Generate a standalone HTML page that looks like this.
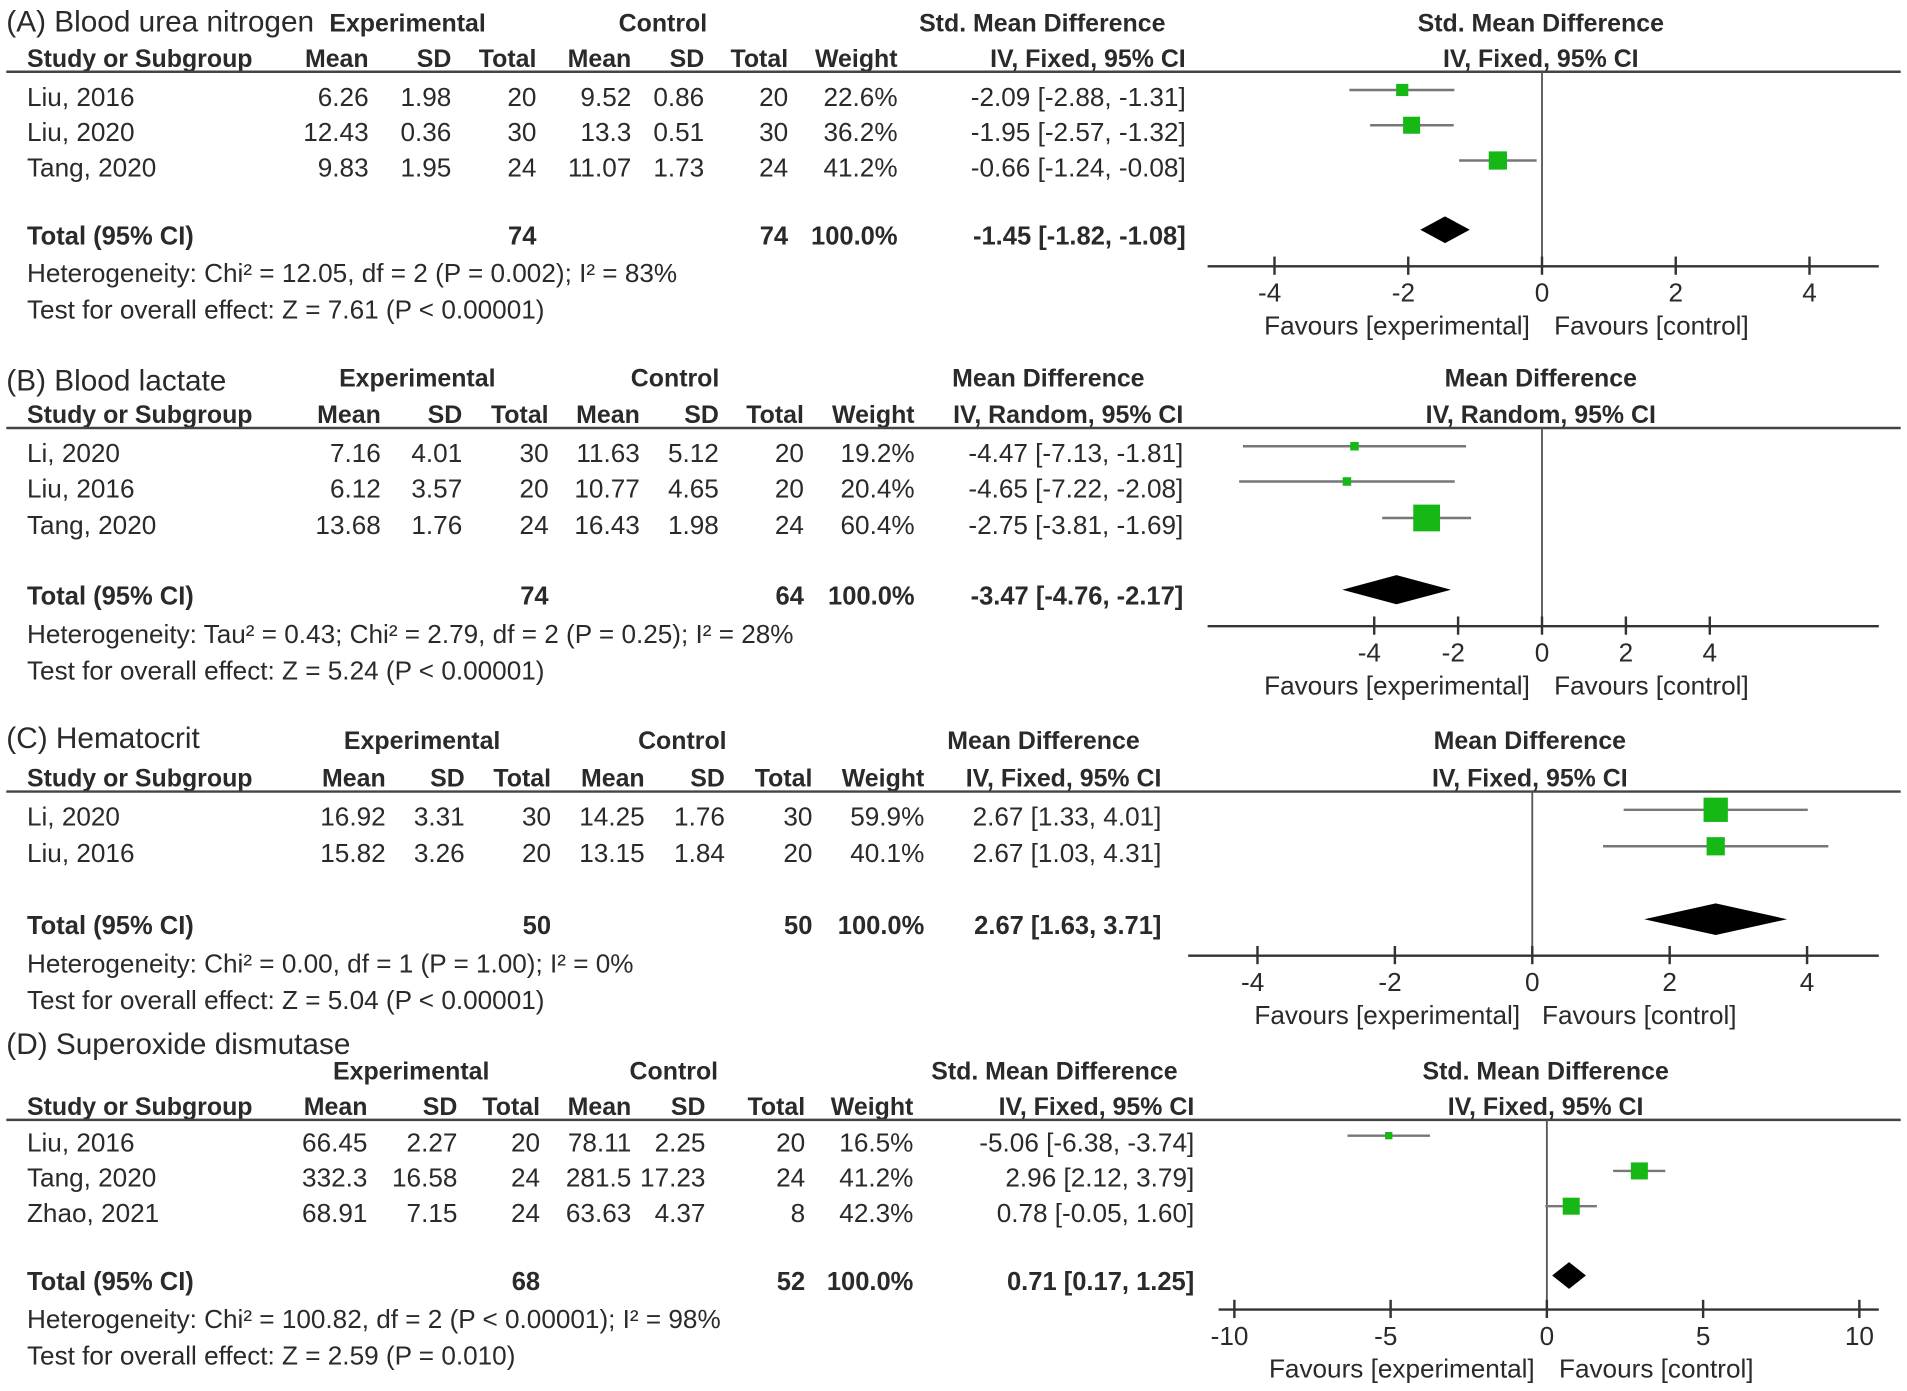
<!DOCTYPE html>
<html><head><meta charset="utf-8"><style>
html,body{margin:0;padding:0;background:#fff;}
svg{display:block;}
text{font-family:"Liberation Sans Narrow","Liberation Sans",sans-serif;fill:#2a2a2a;}
.h{font-weight:bold;font-size:20.5px;}
.d{font-size:21.5px;}
.t{font-size:24.5px;}
.b{font-weight:bold;font-size:21px;}
</style></head><body>
<svg id="chart" width="1907" height="1391" viewBox="0 0 1568 1144" xmlns="http://www.w3.org/2000/svg"></svg>
<script>
// ---- Panel A: Blood urea nitrogen ----
const aStudies=["Liu, 2016","Liu, 2020","Tang, 2020"];
const aExpMean=["6.26","12.43","9.83"], aExpSD=["1.98","0.36","1.95"], aExpN=["20","30","24"];
const aCtlMean=["9.52","13.3","11.07"], aCtlSD=["0.86","0.51","1.73"], aCtlN=["20","30","24"];
const aWeight=[22.6,36.2,41.2];
const aEst=[-2.09,-1.95,-0.66], aLo=[-2.88,-2.57,-1.24], aHi=[-1.31,-1.32,-0.08];
const aTotal=[-1.45,-1.82,-1.08], aTotN=["74","74"];
const aTicks=[-4,-2,0,2,4];
// ---- Panel B: Blood lactate ----
const bStudies=["Li, 2020","Liu, 2016","Tang, 2020"];
const bExpMean=["7.16","6.12","13.68"], bExpSD=["4.01","3.57","1.76"], bExpN=["30","20","24"];
const bCtlMean=["11.63","10.77","16.43"], bCtlSD=["5.12","4.65","1.98"], bCtlN=["20","20","24"];
const bWeight=[19.2,20.4,60.4];
const bEst=[-4.47,-4.65,-2.75], bLo=[-7.13,-7.22,-3.81], bHi=[-1.81,-2.08,-1.69];
const bTotal=[-3.47,-4.76,-2.17], bTotN=["74","64"];
const bTicks=[-4,-2,0,2,4];
// ---- Panel C: Hematocrit ----
const cStudies=["Li, 2020","Liu, 2016"];
const cExpMean=["16.92","15.82"], cExpSD=["3.31","3.26"], cExpN=["30","20"];
const cCtlMean=["14.25","13.15"], cCtlSD=["1.76","1.84"], cCtlN=["30","20"];
const cWeight=[59.9,40.1];
const cEst=[2.67,2.67], cLo=[1.33,1.03], cHi=[4.01,4.31];
const cTotal=[2.67,1.63,3.71], cTotN=["50","50"];
const cTicks=[-4,-2,0,2,4];
// ---- Panel D: Superoxide dismutase ----
const dStudies=["Liu, 2016","Tang, 2020","Zhao, 2021"];
const dExpMean=["66.45","332.3","68.91"], dExpSD=["2.27","16.58","7.15"], dExpN=["20","24","24"];
const dCtlMean=["78.11","281.5","63.63"], dCtlSD=["2.25","17.23","4.37"], dCtlN=["20","24","8"];
const dWeight=[16.5,41.2,42.3];
const dEst=[-5.06,2.96,0.78], dLo=[-6.38,2.12,-0.05], dHi=[-3.74,3.79,1.60];
const dTotal=[0.71,0.17,1.25], dTotN=["68","52"];
const dTicks=[-10,-5,0,5,10];

const svg=document.getElementById('chart');
const NS="http://www.w3.org/2000/svg";
function mk(tag,attrs,parent){const e=document.createElementNS(NS,tag);for(const k in attrs)e.setAttribute(k,attrs[k]);(parent||svg).appendChild(e);return e;}
function txt(s,x,y,cls,anchor,name,parent){const e=mk('text',{x:x,y:y,class:cls,'text-anchor':anchor||'start'},parent);e.textContent=s;


return e;}
function f2(v){return (v<0?'-':'')+Math.abs(v).toFixed(2);}
function ci(e,l,h){return f2(e)+' ['+f2(l)+', '+f2(h)+']';}

const panels=[
 {id:'a',title:'(A) Blood urea nitrogen',method:'Std. Mean Difference',sub:'IV, Fixed, 95% CI',
  studies:aStudies,em:aExpMean,es:aExpSD,en:aExpN,cm:aCtlMean,cs:aCtlSD,cn:aCtlN,w:aWeight,est:aEst,lo:aLo,hi:aHi,tot:aTotal,totN:aTotN,ticks:aTicks,
  hdr:{exp:335,ctl:545,meth:857,right:1267,titleY:26,h1:26},cols:[303,371,441,519,579,648,738,975],lineY:59,rowY:[74,103,132],totY:189,hetY:232,
  het:'Heterogeneity: Chi\u00b2 = 12.05, df = 2 (P = 0.002); I\u00b2 = 83%',test:'Test for overall effect: Z = 7.61 (P < 0.00001)',
  zero:1268,unit:55,axY:219,axL:993,axR:1545,favEnd:1258,favStart:1278,hsq:[10,14,15],dh:11},
 {id:'b',title:'(B) Blood lactate',method:'Mean Difference',sub:'IV, Random, 95% CI',
  studies:bStudies,em:bExpMean,es:bExpSD,en:bExpN,cm:bCtlMean,cs:bCtlSD,cn:bCtlN,w:bWeight,est:bEst,lo:bLo,hi:bHi,tot:bTotal,totN:bTotN,ticks:bTicks,
  hdr:{exp:343,ctl:555,meth:862,right:1267,titleY:321,h1:318},cols:[313,380,451,526,591,661,752,973],lineY:352,rowY:[367,396,426],totY:485,hetY:529,
  het:'Heterogeneity: Tau\u00b2 = 0.43; Chi\u00b2 = 2.79, df = 2 (P = 0.25); I\u00b2 = 28%',test:'Test for overall effect: Z = 5.24 (P < 0.00001)',
  zero:1268,unit:34.5,axY:515,axL:993,axR:1545,favEnd:1258,favStart:1278,hsq:[7,7,22],dh:12},
 {id:'c',title:'(C) Hematocrit',method:'Mean Difference',sub:'IV, Fixed, 95% CI',
  studies:cStudies,em:cExpMean,es:cExpSD,en:cExpN,cm:cCtlMean,cs:cCtlSD,cn:cCtlN,w:cWeight,est:cEst,lo:cLo,hi:cHi,tot:cTotal,totN:cTotN,ticks:cTicks,
  hdr:{exp:347,ctl:561,meth:858,right:1258,titleY:615,h1:616},cols:[317,382,453,530,596,668,760,955],lineY:651,rowY:[666,696],totY:756,hetY:800,
  het:'Heterogeneity: Chi\u00b2 = 0.00, df = 1 (P = 1.00); I\u00b2 = 0%',test:'Test for overall effect: Z = 5.04 (P < 0.00001)',
  zero:1260,unit:56.5,axY:786,axL:977,axR:1545,favEnd:1250,favStart:1268,hsq:[20,15],dh:13},
 {id:'d',title:'(D) Superoxide dismutase',method:'Std. Mean Difference',sub:'IV, Fixed, 95% CI',
  studies:dStudies,em:dExpMean,es:dExpSD,en:dExpN,cm:dCtlMean,cs:dCtlSD,cn:dCtlN,w:dWeight,est:dEst,lo:dLo,hi:dHi,tot:dTotal,totN:dTotN,ticks:dTicks,
  hdr:{exp:338,ctl:554,meth:867,right:1271,titleY:867,h1:888},cols:[302,376,444,519,580,662,751,982],lineY:921,rowY:[934,963,992],totY:1049,hetY:1092,
  het:'Heterogeneity: Chi\u00b2 = 100.82, df = 2 (P < 0.00001); I\u00b2 = 98%',test:'Test for overall effect: Z = 2.59 (P = 0.010)',
  zero:1272,unit:25.7,axY:1077,axL:1002,axR:1545,favEnd:1262,favStart:1282,hsq:[6,14,14],dh:11}
];

panels.forEach(p=>{
 const g=mk('g',{});
 
 
 const h2=p.lineY-4;
 txt(p.title,5,p.hdr.titleY,'t','start','panel-title',g);
 txt('Experimental',p.hdr.exp,p.hdr.h1,'h','middle','experimental-header',g);
 txt('Control',p.hdr.ctl,p.hdr.h1,'h','middle','control-header',g);
 txt(p.method,p.hdr.meth,p.hdr.h1,'h','middle','effect-header',g);
 txt(p.method,p.hdr.right,p.hdr.h1,'h','middle','plot-header',g);
 txt('Study or Subgroup',22,h2,'h','start','study-column-header',g);
 const hn=['Mean','SD','Total','Mean','SD','Total','Weight',p.sub];
 hn.forEach((s,i)=>txt(s,p.cols[i],h2,'h','end','column-header',g));
 txt(p.sub,p.hdr.right,h2,'h','middle','plot-subheader',g);
 const hl=mk('line',{x1:5,x2:1563,y1:p.lineY,y2:p.lineY,stroke:'#444','stroke-width':2},g);
 
 
 const X=v=>p.zero+v*p.unit;
 const zl=mk('line',{x1:X(0),x2:X(0),y1:p.lineY,y2:p.axY,stroke:'#555','stroke-width':1.5},g);
 
 
 p.studies.forEach((s,i)=>{
  const y=p.rowY[i], by=y+13;
  const vals=[p.em[i],p.es[i],p.en[i],p.cm[i],p.cs[i],p.cn[i],p.w[i].toFixed(1)+'%',ci(p.est[i],p.lo[i],p.hi[i])];
  txt(s,22,by,'d','start','study-name',g);
  vals.forEach((v,j)=>txt(v,p.cols[j],by,'d','end','study-value',g));
  const l=mk('line',{x1:X(p.lo[i]),x2:X(p.hi[i]),y1:y,y2:y,stroke:'#777','stroke-width':2},g);
  
  
  const sz=p.hsq[i];
  const r=mk('rect',{x:X(p.est[i])-sz/2,y:y-sz/2,width:sz,height:sz,fill:'#16b816'},g);
  
  
 });
 const ty=p.totY+12;
 txt('Total (95% CI)',22,ty,'b','start','total-label',g);
 txt(p.totN[0],p.cols[2],ty,'b','end','total-exp-n',g);
 txt(p.totN[1],p.cols[5],ty,'b','end','total-ctl-n',g);
 txt('100.0%',p.cols[6],ty,'b','end','total-weight',g);
 txt(ci(p.tot[0],p.tot[1],p.tot[2]),p.cols[7],ty,'b','end','total-ci',g);
 const dm=mk('polygon',{points:[X(p.tot[1])+','+p.totY,X(p.tot[0])+','+(p.totY-p.dh),X(p.tot[2])+','+p.totY,X(p.tot[0])+','+(p.totY+p.dh)].join(' '),fill:'#000'},g);
 
 
 txt(p.het,22,p.hetY,'d','start','heterogeneity-text',g);
 txt(p.test,22,p.hetY+30,'d','start','overall-effect-text',g);
 const ax=mk('line',{x1:p.axL,x2:p.axR,y1:p.axY,y2:p.axY,stroke:'#333','stroke-width':2},g);
 
 
 p.ticks.forEach(t=>{
  const tk=mk('line',{x1:X(t),x2:X(t),y1:p.axY-8,y2:p.axY+7,stroke:'#333','stroke-width':2},g);
  
  
  txt(String(t),X(t)+(t<0?-4:0),p.axY+29,'d','middle','x-tick-label',g);
 });
 txt('Favours [experimental]',p.favEnd,p.axY+56,'d','end','favours-experimental',g);
 txt('Favours [control]',p.favStart,p.axY+56,'d','start','favours-control',g);
});
</script>
</body></html>
